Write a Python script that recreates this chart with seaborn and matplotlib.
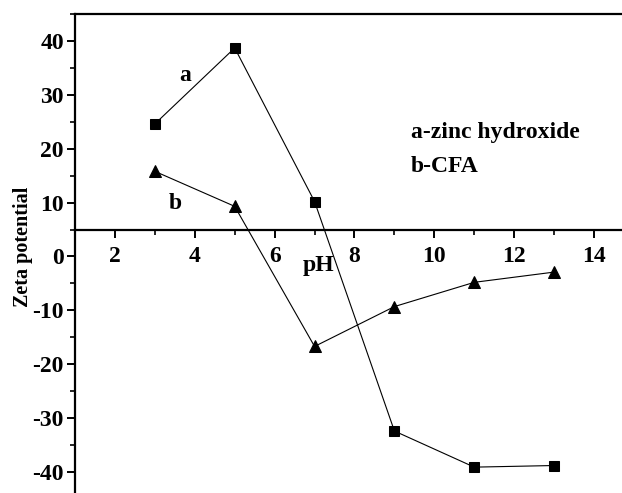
import matplotlib
matplotlib.use("Agg")
import matplotlib.pyplot as plt
import seaborn as sns
import pandas as pd
from matplotlib.ticker import MultipleLocator

ph = [3, 5, 7, 9, 11, 13]
zeta_a = [24.6, 38.7, 10.2, -32.4, -39.1, -38.8]
zeta_b = [15.8, 9.3, -16.7, -9.3, -4.8, -2.9]
x_ticks = [2, 4, 6, 8, 10, 12, 14]
y_ticks = [-40, -30, -20, -10, 0, 10, 20, 30, 40]

sns.set_theme(style="ticks")
plt.rcParams['font.family'] = ['Liberation Serif', 'DejaVu Serif']
plt.rcParams['font.weight'] = 'bold'
plt.rcParams['axes.unicode_minus'] = False
for k in ['text.color', 'axes.labelcolor', 'xtick.color', 'ytick.color', 'axes.edgecolor']:
    plt.rcParams[k] = 'black'

df_a = pd.DataFrame({"pH": ph, "zeta": zeta_a})
df_b = pd.DataFrame({"pH": ph, "zeta": zeta_b})

fig = plt.figure(figsize=(6.22, 4.93), dpi=100)
ax = fig.add_axes([75/622, 0.0, 1 - 75/622, 1 - 14/493])

sns.lineplot(data=df_a, x="pH", y="zeta", ax=ax, color="black", linewidth=0.8,
             marker="s", markersize=6.5, markeredgecolor="black", markerfacecolor="black")
sns.lineplot(data=df_b, x="pH", y="zeta", ax=ax, color="black", linewidth=0.8,
             marker="^", markersize=8.5, markeredgecolor="black", markerfacecolor="black")

ax.set_xlim(1, 14.7)
ax.set_ylim(-43.9, 45)
ax.spines['bottom'].set_position(('data', 5))
ax.spines['right'].set_visible(False)
for s in ['left', 'top', 'bottom']:
    ax.spines[s].set_linewidth(1.6)
    ax.spines[s].set_color('black')

ax.set_xticks(x_ticks)
ax.set_yticks(y_ticks)
ax.xaxis.set_minor_locator(MultipleLocator(1))
ax.yaxis.set_minor_locator(MultipleLocator(5))
ax.tick_params(axis='both', which='major', direction='out', length=6, width=1.4,
               labelsize=17, colors='black')
ax.tick_params(axis='both', which='minor', direction='out', length=3.5, width=1.2, colors='black')
ax.tick_params(axis='x', which='major', pad=6)
ax.tick_params(axis='y', which='major', pad=2)
for lab in ax.get_xticklabels() + ax.get_yticklabels():
    lab.set_fontweight('bold')

ax.set_xlabel("")
ax.set_ylabel("Zeta potential", fontsize=14.5, fontweight='bold')
ax.yaxis.set_label_coords(-0.077, (1.7 + 43.9) / 88.9)

ax.text(3.77, 33.5, "a", fontsize=17, fontweight='bold', ha='center', va='center')
ax.text(3.52, 9.8, "b", fontsize=17, fontweight='bold', ha='center', va='center')
ax.text(7.1, -1.7, "pH", fontsize=17, fontweight='bold', ha='center', va='center')
ax.text(9.41, 21.9, "a-zinc hydroxide", fontsize=17, fontweight='bold', ha='left', va='baseline')
ax.text(9.41, 15.6, "b-CFA", fontsize=17, fontweight='bold', ha='left', va='baseline')

fig.savefig("out.png", dpi=100)
